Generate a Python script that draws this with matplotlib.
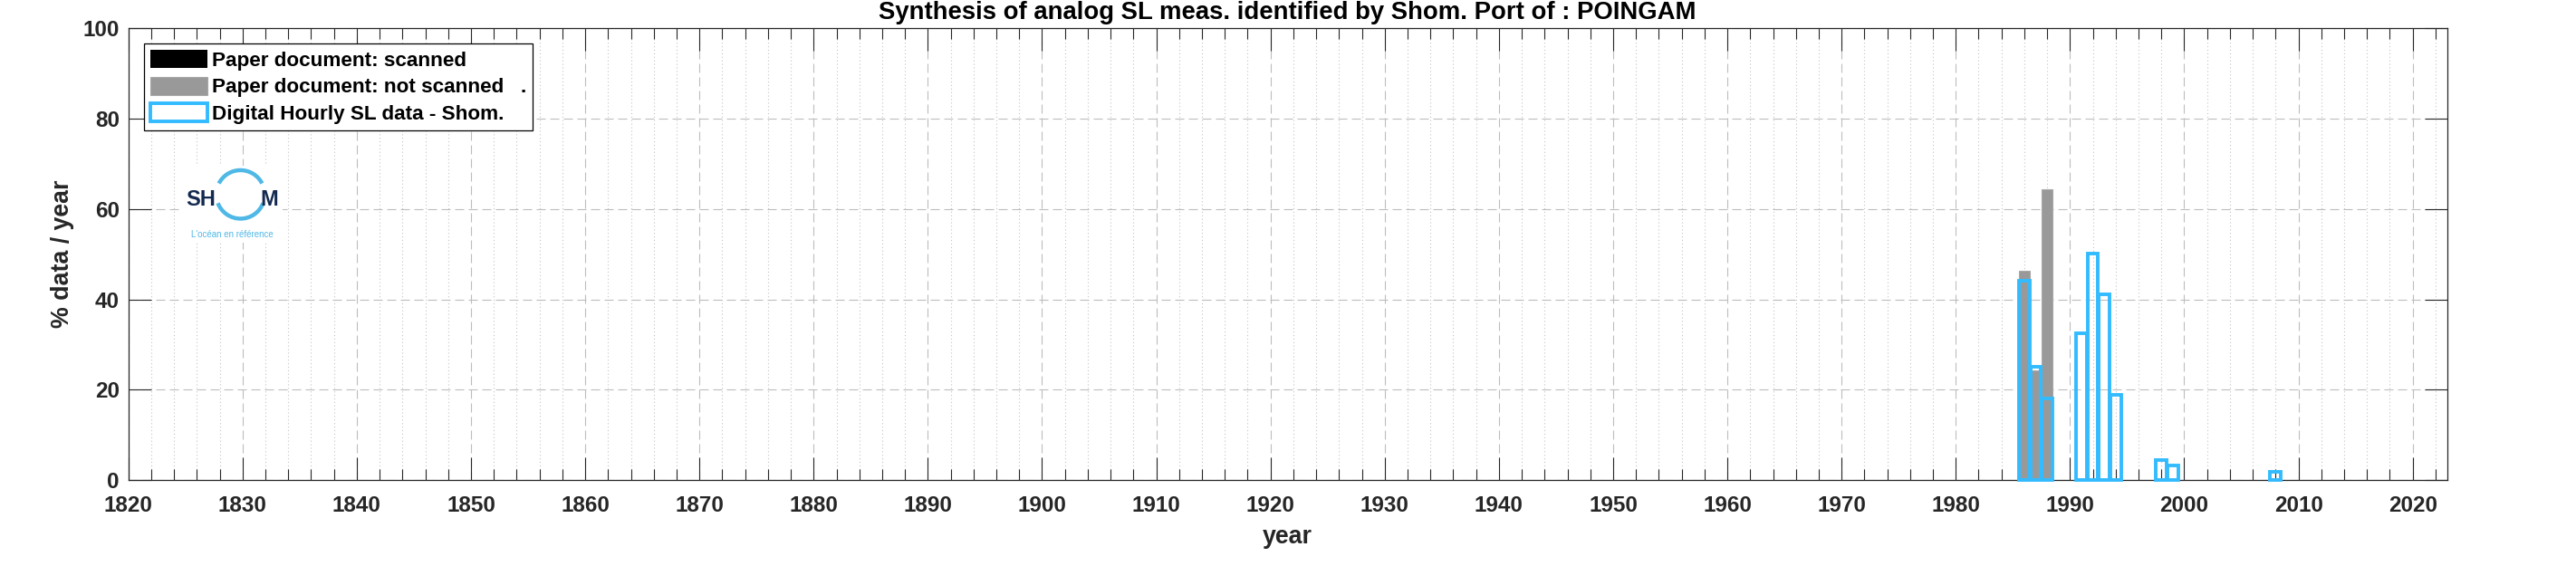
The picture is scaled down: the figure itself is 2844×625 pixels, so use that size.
import matplotlib
matplotlib.use('Agg')
import matplotlib.pyplot as plt
from matplotlib.patches import Arc
from matplotlib.ticker import MultipleLocator

# data (% data / year)
scanned_years = [1986, 1987, 1988]
scanned_pct = [0.0, 0.0, 0.0]
not_scanned_years = [1986, 1987, 1988]
not_scanned_pct = [46.3, 24.3, 64.3]
digital_years = [1986, 1987, 1988, 1991, 1992, 1993, 1994, 1998, 1999, 2008]
digital_pct = [44.1, 25.0, 18.0, 32.5, 50.1, 41.1, 18.9, 4.5, 3.3, 1.8]

legend_labels = ['Paper document: scanned',
                 'Paper document: not scanned   .',
                 'Digital Hourly SL data - Shom.']
port = 'POINGAM'

plt.rcParams['font.family'] = ['Liberation Sans', 'DejaVu Sans']
plt.rcParams['font.weight'] = 'bold'

W, H = 2844, 625
fig = plt.figure(figsize=(W / 100, H / 100), dpi=100)
# axes box in pixels: x 141.7 -> 2701.5, y 31.3 -> 530 (from top)
ax = fig.add_axes([141.7 / W, 1 - 530 / H, (2701.5 - 141.7) / W, (530 - 31.3) / H])

axcol = '#262626'
b1 = ax.bar(scanned_years, scanned_pct, width=0.95, color='black', linewidth=0, zorder=2)
b2 = ax.bar(not_scanned_years, not_scanned_pct, width=0.95, color='#999999',
            edgecolor='#a8a8a8', linewidth=0.8, zorder=3)
b3 = ax.bar(digital_years, digital_pct, width=0.93, facecolor='none',
            edgecolor='#33bbff', linewidth=2.8, zorder=4, clip_on=False)

ax.set_xlim(1820, 2023)
ax.set_ylim(0, 100)
ax.xaxis.set_major_locator(MultipleLocator(10))
ax.xaxis.set_minor_locator(MultipleLocator(2))
ax.yaxis.set_major_locator(MultipleLocator(20))

ax.set_axisbelow(True)
ax.grid(which='major', color='#bdbdbd', linewidth=0.8, linestyle=(0, (9, 4.5)))
ax.grid(which='minor', axis='x', color='#c4c4c4', linewidth=0.8, linestyle=(0, (1, 2.5)))

ax.tick_params(which='both', direction='in', top=True, right=True, colors=axcol)
ax.tick_params(which='major', length=18, width=0.8, labelsize=17.5)
ax.tick_params(axis='x', which='major', pad=12.5)
ax.tick_params(axis='y', which='major', pad=7)
ax.tick_params(which='minor', length=8.5, width=0.8)
for s in ax.spines.values():
    s.set_color(axcol)
    s.set_linewidth(0.9)

ax.set_title('Synthesis of analog SL meas. identified by Shom. Port of : ' + port,
             fontsize=19.8, fontweight='bold', pad=7.5)
ax.set_xlabel('year', fontsize=19.3, fontweight='bold', color=axcol, va='center')
ax.xaxis.set_label_coords(0.5, (530 - 593) / (530 - 31.3))
ax.set_ylabel('% data / year', fontsize=19.3, fontweight='bold', color=axcol, va='center')
ax.yaxis.set_label_coords((69 - 141.7) / (2701.5 - 141.7), 0.5)

leg = ax.legend([b1, b2, b3], legend_labels, loc='upper left',
                bbox_to_anchor=(17.6 / 2559.8, 1 - 17 / 498.7), borderaxespad=0,
                fontsize=16.2, handlelength=2.8, handleheight=1.0, handletextpad=0.2,
                labelspacing=0.3, borderpad=0.3, fancybox=False, framealpha=1)
leg.get_frame().set_edgecolor('black')
leg.get_frame().set_linewidth(0.9)

# Shom logo drawn as a small inset
lx0, lx1, ly0, ly1 = 198, 312, 183, 268
lax = fig.add_axes([lx0 / W, 1 - ly1 / H, (lx1 - lx0) / W, (ly1 - ly0) / H])
lax.set_xlim(0, lx1 - lx0)
lax.set_ylim(ly1 - ly0, 0)
lax.set_facecolor('white')
lax.set_xticks([])
lax.set_yticks([])
for s in lax.spines.values():
    s.set_visible(False)
navy = '#13294f'
sky = '#4fb8e6'
lax.text(7, 43.7, 'SH', fontsize=17, fontweight='bold', color=navy, ha='left', va='baseline')
lax.text(99.5, 43.7, 'M', fontsize=17, fontweight='bold', color=navy, ha='center', va='baseline')
lax.add_patch(Arc((67.5, 31.7), 53.5, 53.5, theta1=207, theta2=333, color=sky, linewidth=3.2))
lax.add_patch(Arc((67.5, 31.7), 53.5, 53.5, theta1=21, theta2=159, color=sky, linewidth=3.2))
lax.text(58.5, 76, "L'océan en référence", fontsize=7, fontweight='normal', color=sky,
         ha='center', va='center')

fig.savefig('out.png', dpi=100, facecolor='white')
